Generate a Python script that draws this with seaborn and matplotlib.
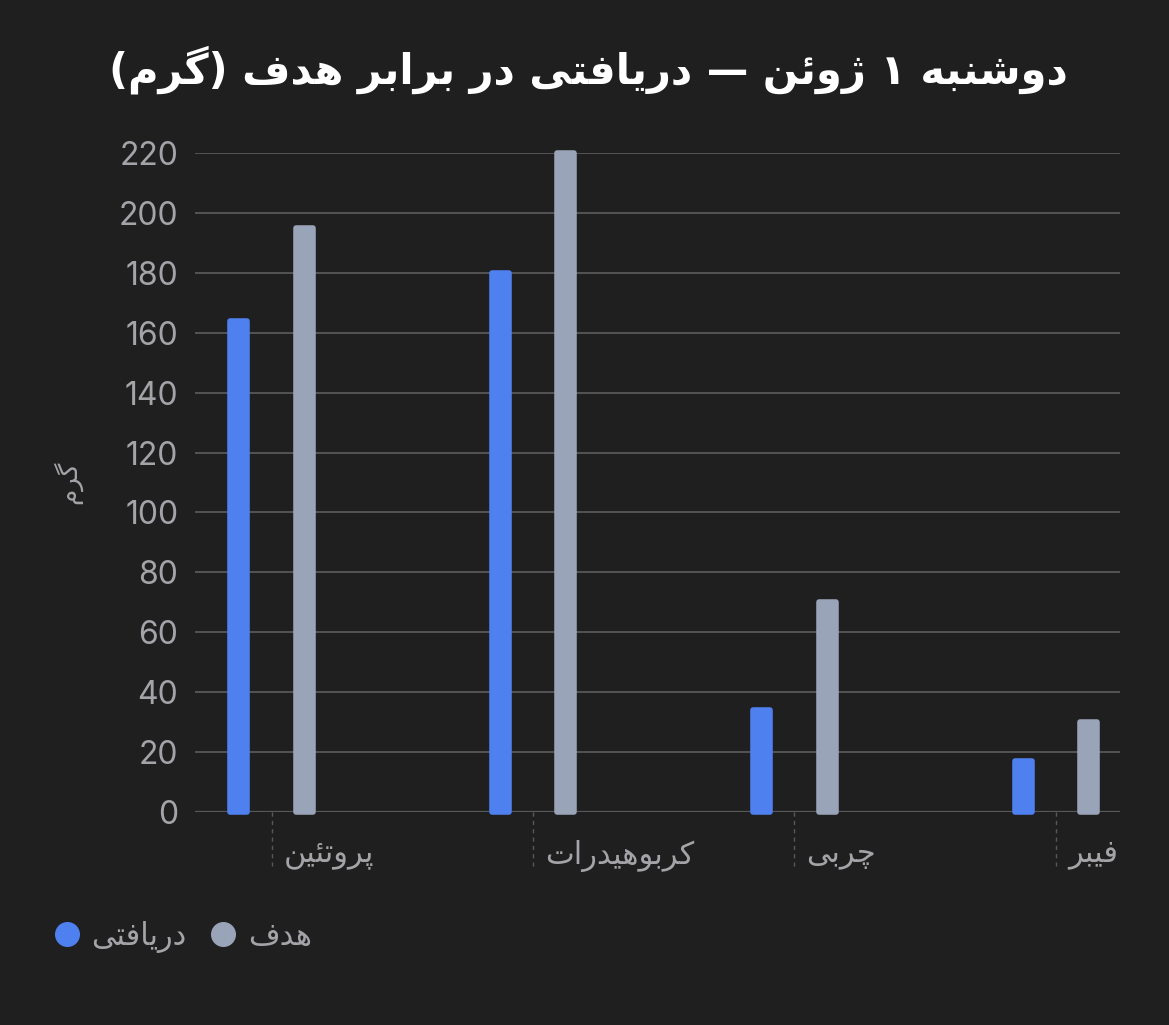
import pandas as pd
import matplotlib
matplotlib.use("Agg")
import matplotlib.pyplot as plt
import matplotlib.transforms as mtransforms
from matplotlib.lines import Line2D
import seaborn as sns

# data
title = "دوشنبه ۱ ژوئن — دریافتی در برابر هدف (گرم)"
y_label = "گرم"
nutrients = ["پروتئین", "کربوهیدرات", "چربی", "فیبر"]
series_names = ["دریافتی", "هدف"]
intake = [164, 180, 34, 17]
target = [195, 220, 70, 30]
y_ticks = [0, 20, 40, 60, 80, 100, 120, 140, 160, 180, 200, 220]

bg = "#1f1f1f"
blue = "#4f80f0"
gray = "#9aa4b8"
grid_c = "#58585b"
text_c = "#a3a3a8"

# matplotlib has no arabic shaping: pick presentation forms by hand
FORMS = {
    "ا": "\ufe8d\ufe8e", "د": "\ufea9\ufeaa", "ر": "\ufead\ufeae",
    "ژ": "\ufb8a\ufb8b", "و": "\ufeed\ufeee",
    "ب": "\ufe8f\ufe90\ufe91\ufe92", "ت": "\ufe95\ufe96\ufe97\ufe98",
    "ش": "\ufeb5\ufeb6\ufeb7\ufeb8", "ف": "\ufed1\ufed2\ufed3\ufed4",
    "م": "\ufee1\ufee2\ufee3\ufee4", "ن": "\ufee5\ufee6\ufee7\ufee8",
    "ه": "\ufee9\ufeea\ufeeb\ufeec", "ئ": "\ufe89\ufe8a\ufe8b\ufe8c",
    "ی": "\ufbfc\ufbfd\ufbfe\ufbff", "پ": "\ufb56\ufb57\ufb58\ufb59",
    "چ": "\ufb7a\ufb7b\ufb7c\ufb7d", "ک": "\ufb8e\ufb8f\ufb90\ufb91",
    "گ": "\ufb92\ufb93\ufb94\ufb95",
}


def shape(text):
    out = []
    for i, ch in enumerate(text):
        if ch not in FORMS:
            out.append(ch)
            continue
        prev_c = text[i - 1] if i > 0 else ""
        next_c = text[i + 1] if i < len(text) - 1 else ""
        join_prev = prev_c in FORMS and len(FORMS[prev_c]) == 4
        join_next = len(FORMS[ch]) == 4 and next_c in FORMS
        f = FORMS[ch]
        if join_prev and join_next:
            out.append(f[3])
        elif join_prev:
            out.append(f[1])
        elif join_next:
            out.append(f[2])
        else:
            out.append(f[0])
    vis = "".join(out)[::-1]
    return vis.translate(str.maketrans("()", ")("))


df = pd.DataFrame({
    "nutrient": nutrients * 2,
    "series": [s for s in series_names for _ in nutrients],
    "value": intake + target,
})
df["label"] = df["nutrient"].map(shape)

sns.set_theme(style="dark")
plt.rcParams["font.family"] = ["DejaVu Sans"]

fig = plt.figure(figsize=(11.69, 10.25), dpi=100, facecolor=bg)
ax = fig.add_axes([0.1668, 0.2078, 0.7912, 0.6429], facecolor=bg)

sns.barplot(data=df, x="label", y="value", hue="series", hue_order=series_names,
            palette=[blue, gray], saturation=1, width=0.5, gap=0.74,
            errorbar=None, legend=False, ax=ax)
for p in ax.patches:
    p.set_edgecolor(p.get_facecolor())
    p.set_linewidth(4)
    p.set_joinstyle("round")
    p.set_clip_on(False)

ax.set_xlim(-0.293, 3.245)
ax.set_ylim(0, 220)
ax.set_yticks(y_ticks)
ax.set_yticklabels([str(v) for v in y_ticks], family=["Inter", "DejaVu Sans"],
                   fontsize=23, color=text_c)
ax.yaxis.grid(True, color=grid_c, linewidth=1.3)
ax.xaxis.grid(False)
ax.set_axisbelow(True)
for s in ax.spines.values():
    s.set_visible(False)
ax.tick_params(axis="y", length=0, pad=12)
ax.tick_params(axis="x", length=0, pad=20, labelsize=22, labelcolor=text_c)
ax.axhline(0, color=grid_c, linewidth=1.6, zorder=0.5)

# labels start right of the tick like the rtl original
offset = mtransforms.ScaledTranslation(12 / 100, 0, fig.dpi_scale_trans)
for lab in ax.get_xticklabels():
    lab.set_horizontalalignment("left")
    lab.set_transform(lab.get_transform() + offset)

ax.vlines(ax.get_xticks(), 0, -0.082, transform=ax.get_xaxis_transform(),
          colors=grid_c, linestyles=(0, (3, 3)), linewidth=1, clip_on=False)

ax.set_xlabel("")
ax.set_ylabel(shape(y_label), fontsize=19, color=text_c)
ax.yaxis.set_label_coords(-0.122, 0.5)

fig.text(0.503, 0.932, shape(title), ha="center", va="center", fontsize=30,
         fontweight="bold", color="white")

handles = [Line2D([], [], marker="o", linestyle="", markersize=17,
                  markerfacecolor=c, markeredgecolor=c) for c in (blue, gray)]
fig.legend(handles, [shape(s) for s in series_names], loc="center left",
           bbox_to_anchor=(0.018, 0.086), ncol=2, frameon=False, fontsize=22,
           labelcolor=text_c, handletextpad=0.2, columnspacing=0.6,
           handlelength=1.2)

fig.savefig("out.png", dpi=100, facecolor=bg)
